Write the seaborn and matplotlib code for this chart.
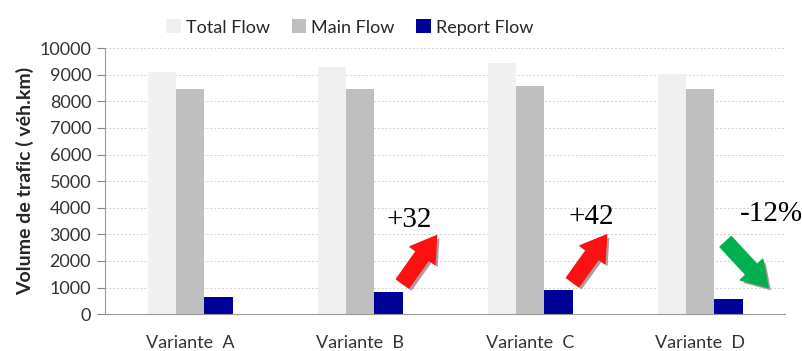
import pandas as pd
import matplotlib.pyplot as plt
import seaborn as sns
from matplotlib import patheffects as pe

# données
variantes = ["Variante  A", "Variante  B", "Variante  C", "Variante  D"]
series = ["Total Flow", "Main Flow", "Report Flow"]
total_flow = [9100, 9280, 9450, 9020]
main_flow = [8450, 8450, 8560, 8480]
report_flow = [650, 830, 900, 570]

# annotations (texte, position du texte, queue et pointe de la flèche, couleur)
notes = [
    ("+32", (1.29, 3550), (1.25, 1150), (1.45, 2950), "#ff1010"),
    ("+42", (2.36, 3650), (2.25, 1200), (2.45, 2980), "#ff1010"),
    ("-12%", (3.42, 3780), (3.15, 2720), (3.40, 1000), "#00b050"),
]

df = pd.DataFrame({"variante": variantes, "Total Flow": total_flow,
                   "Main Flow": main_flow, "Report Flow": report_flow})
df = df.melt(id_vars="variante", var_name="serie", value_name="valeur")

sns.set_style("white")
plt.rcParams['font.family'] = ['Lato', 'DejaVu Sans']

fig, ax = plt.subplots(figsize=(8.02, 3.51), dpi=100)
sns.barplot(data=df, x="variante", y="valeur", hue="serie", hue_order=series,
            palette=["#f0f0f0", "#bfbfbf", "#000099"], width=0.5,
            saturation=1, linewidth=0, ax=ax, legend=True)

ax.set_ylim(0, 10000)
ax.set_yticks(range(0, 10001, 1000))
ax.set_xlim(-0.5, 3.5)
ax.yaxis.grid(True, linestyle=(0, (2, 2)), color="#d0d0d0", linewidth=0.7)
ax.set_axisbelow(True)
ax.set_xlabel("")
ax.set_ylabel("Volume de trafic ( véh.km)", fontsize=14, fontweight="bold", labelpad=4)
ax.tick_params(axis="y", labelsize=13, length=6, color="#888888", direction="out", left=True, pad=4)
ax.tick_params(axis="x", labelsize=13, length=0, pad=15)
for lbl in ax.get_xticklabels() + ax.get_yticklabels():
    lbl.set_color("#333333")
for s in ["top", "right"]:
    ax.spines[s].set_visible(False)
for s in ["left", "bottom"]:
    ax.spines[s].set_color("#999999")

ax.legend(loc="lower center", bbox_to_anchor=(0.36, 1.02), ncol=3, frameon=False,
          fontsize=13, handlelength=0.8, handleheight=0.8, handletextpad=0.3,
          columnspacing=1.2, borderaxespad=0)

for txt, pos, tail, head, col in notes:
    ax.text(pos[0], pos[1], txt, fontsize=21, family="Liberation Serif",
            ha="center", va="center", color="black")
    ax.annotate("", xy=head, xytext=tail,
                arrowprops=dict(arrowstyle="simple,head_length=0.8,head_width=1.0,tail_width=0.5",
                                color=col, shrinkA=0, shrinkB=0, mutation_scale=22,
                                path_effects=[pe.SimplePatchShadow(offset=(2, -2), shadow_rgbFace="#a08080", alpha=0.8),
                                              pe.Normal()]))

plt.subplots_adjust(left=0.131, right=0.979, top=0.863, bottom=0.105)
plt.savefig("out.png", dpi=100)
